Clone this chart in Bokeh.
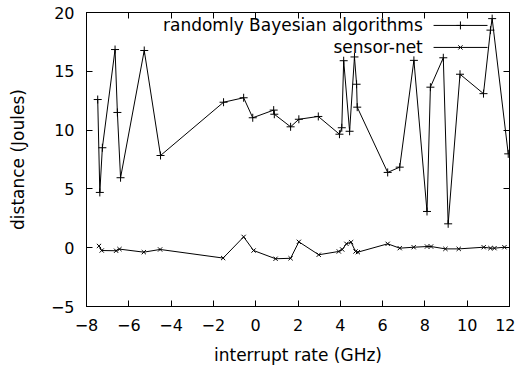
from bokeh.plotting import figure
from bokeh.models import LinearAxis, FixedTicker, Range1d, CustomJSTickFormatter, Label
from bokeh.embed import file_html
from bokeh.resources import INLINE

# ---- data ----
bayes_x = [-7.47, -7.37, -7.25, -6.65, -6.54, -6.39, -5.27, -4.50, -1.52, -0.57,
           -0.14, 0.85, 0.88, 1.65, 2.04, 2.96, 3.96, 4.07, 4.16, 4.44,
           4.67, 4.77, 4.80, 6.24, 6.81, 7.48, 8.10, 8.26, 8.87, 9.10,
           9.66, 10.77, 11.10, 11.18, 11.94]
bayes_y = [12.6, 4.7, 8.5, 16.85, 11.5, 5.95, 16.77, 7.84, 12.37, 12.75,
           11.05, 11.7, 11.35, 10.28, 10.92, 11.16, 9.65, 10.2, 15.9, 9.9,
           16.22, 13.9, 11.95, 6.4, 6.85, 15.93, 3.08, 13.65, 16.15, 2.03,
           14.75, 13.1, 18.5, 19.48, 7.98]

sensor_x = [-7.41, -7.28, -6.60, -6.44, -5.29, -4.52, -1.54, -0.57, -0.10, 0.94,
            1.65, 2.04, 2.98, 3.93, 4.09, 4.29, 4.51, 4.72, 4.83, 6.24,
            6.81, 7.47, 8.10, 8.29, 8.97, 9.60, 10.78, 11.10, 11.29, 11.76]
sensor_y = [0.15, -0.24, -0.26, -0.12, -0.38, -0.15, -0.88, 0.92, -0.24, -0.94,
            -0.9, 0.5, -0.6, -0.32, -0.15, 0.33, 0.47, -0.32, -0.38, 0.33,
            -0.04, 0.04, 0.1, 0.1, -0.1, -0.1, 0.04, -0.04, -0.04, 0.04]

x_ticks = [-8, -6, -4, -2, 0, 2, 4, 6, 8, 10, 12]
y_ticks = [-5, 0, 5, 10, 15, 20]
series_names = ["randomly Bayesian algorithms", "sensor-net"]

FONT = "DejaVu Sans"
W, H = 515, 367

p = figure(width=W, height=H, output_backend="svg", toolbar_location=None,
           x_range=Range1d(-8, 12), y_range=Range1d(-5, 20),
           min_border_left=86, min_border_right=W - 509,
           min_border_top=12, min_border_bottom=H - 306)
p.grid.visible = False
p.outline_line_color = "black"
p.outline_line_width = 1
p.background_fill_color = "white"
p.border_fill_color = "white"

for ax in (p.xaxis[0], p.yaxis[0]):
    ax.major_tick_in = 6
    ax.major_tick_out = 0
    ax.minor_tick_in = 0
    ax.minor_tick_out = 0
    ax.axis_line_color = "black"
    ax.major_tick_line_color = "black"
    ax.major_label_text_font = FONT
    ax.major_label_text_font_size = "16px"
    ax.major_label_text_color = "black"
    ax.axis_label_text_font = FONT
    ax.axis_label_text_font_size = "17px"
    ax.axis_label_text_font_style = "normal"
    ax.axis_label_text_color = "black"

p.xaxis[0].ticker = FixedTicker(ticks=x_ticks)
p.yaxis[0].ticker = FixedTicker(ticks=y_ticks)
p.xaxis[0].axis_label = "interrupt rate (GHz)"
p.yaxis[0].axis_label = "distance (Joules)"
p.xaxis[0].major_label_standoff = 12
p.yaxis[0].major_label_standoff = 12
p.xaxis[0].axis_label_standoff = 11
p.yaxis[0].axis_label_standoff = 20

# mirrored ticks on top and right
blank = CustomJSTickFormatter(code="return '';")
top = LinearAxis(ticker=FixedTicker(ticks=x_ticks), formatter=blank,
                 major_tick_in=6, major_tick_out=0, minor_tick_in=0, minor_tick_out=0,
                 major_label_standoff=0, major_label_text_font_size="1px")
right = LinearAxis(ticker=FixedTicker(ticks=y_ticks), formatter=blank,
                   major_tick_in=6, major_tick_out=0, minor_tick_in=0, minor_tick_out=0,
                   major_label_standoff=0, major_label_text_font_size="1px")
p.add_layout(top, "above")
p.add_layout(right, "right")

# series
p.line(bayes_x, bayes_y, line_color="black", line_width=1)
p.scatter(bayes_x, bayes_y, marker="cross", size=8, line_color="black", line_width=1)
p.line(sensor_x, sensor_y, line_color="black", line_width=1)
p.scatter(sensor_x, sensor_y, marker="x", size=6, line_color="black", line_width=1)

# key (top right, text right-aligned, sample to the right)
key_text_x = 7.9
key_x0, key_x1, key_xm = 8.41, 10.96, 9.68
key_y = [18.9, 17.03]
markers = ["cross", "x"]
for name, ky, mk in zip(series_names, key_y, markers):
    p.add_layout(Label(x=key_text_x, y=ky, text=name, text_align="right",
                       text_baseline="middle", text_font=FONT, text_font_size="17px",
                       text_color="black"))
    p.segment(x0=[key_x0], y0=[ky], x1=[key_x1], y1=[ky], line_color="black", line_width=1)
    p.scatter([key_xm], [ky], marker=mk, size=8 if mk == "cross" else 6,
              line_color="black", line_width=1)

open("out.html", "w").write(file_html(p, INLINE))
